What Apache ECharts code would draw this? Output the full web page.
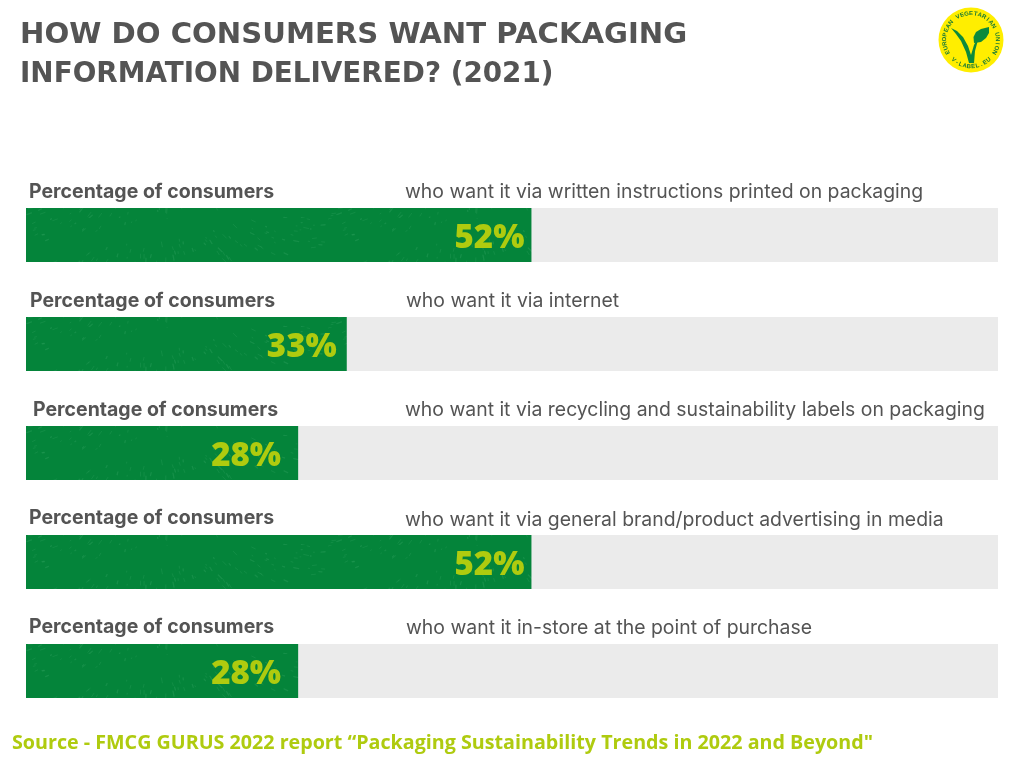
<!DOCTYPE html>
<html>
<head>
<meta charset="utf-8">
<style>html,body{margin:0;background:#fff}#main{width:1024px;height:768px}</style>
<script src="https://cdn.jsdelivr.net/npm/echarts@6/dist/echarts.min.js"></script>
</head>
<body>
<div id="main"></div>
<script>
let titleLines = ['HOW DO CONSUMERS WANT PACKAGING', 'INFORMATION DELIVERED? (2021)']
let leftLabel = 'Percentage of consumers'
let categories = [
    'who want it via written instructions printed on packaging',
    'who want it via internet',
    'who want it via recycling and sustainability labels on packaging',
    'who want it via general brand/product advertising in media',
    'who want it in-store at the point of purchase'
]
let values = [52, 33, 28, 52, 28]
let sourceText = 'Source - FMCG GURUS 2022 report \u201cPackaging Sustainability Trends in 2022 and Beyond"'

// hand placed text, the original is not quite aligned
let leftX = [29, 30, 33, 29, 29], leftY = [192, 301, 410, 518, 627]
let rightX = [405, 406, 405, 405, 406], rightY = [192, 301, 410, 520, 628]
let valueGap = [7, 10, 17, 7, 17]
let titleStretch = [1.023, 0.976]

let textColor = '#545454', lime = '#afcb0f', green = '#04843a'

// speckled texture of the green bars, decoration only
function speckleTile() {
    let c = document.createElement('canvas')
    c.width = 310
    c.height = 109
    let ctx = c.getContext('2d')
    ctx.fillStyle = green
    ctx.fillRect(0, 0, c.width, c.height)
    ctx.strokeStyle = 'rgba(48,160,96,0.4)'
    ctx.lineCap = 'round'
    for (let i = 0; i < 260; i++) {
        let x = (i * 73.3 + 17 * Math.sin(i * 1.7)) % c.width
        let y = (i * 41.7 + 11 * Math.cos(i * 2.3)) % c.height
        let a = i * 2.399
        let len = 1 + (i * 7 % 5)
        ctx.lineWidth = i % 3 === 0 ? 1.3 : 0.8
        ctx.beginPath()
        ctx.moveTo(x, y)
        ctx.lineTo(x + len * Math.cos(a), y + len * Math.sin(a))
        ctx.stroke()
    }
    return c
}

function ringText(str, r, from, to, bottom) {
    let out = []
    let step = (to - from) / (str.length - 1)
    for (let i = 0; i < str.length; i++) {
        let a = from + step * i
        out.push({
            type: 'text',
            x: r * Math.sin(a),
            y: bottom ? r * Math.cos(a) : -r * Math.cos(a),
            rotation: bottom ? a : -a,
            style: {
                text: str[i], fill: '#1a7a35', font: 'bold 6px "Liberation Sans"',
                align: 'center', verticalAlign: 'middle'
            }
        })
    }
    return out
}

let logo = {
    type: 'group',
    x: 971,
    y: 40,
    children: [
        {type: 'circle', shape: {cx: 0, cy: 0, r: 32.5}, style: {fill: '#ffee00'}},
        {type: 'polygon', shape: {
            points: [[-20, -12], [-14, -9], [-8, -3], [-3, 6], [0, 15], [3, 5], [7, -3], [11, -8], [7, 0], [4, 11], [3, 23], [-2, 23], [-5, 12], [-10, 1], [-15, -6]]
        }, style: {fill: '#0d8a3c'}},
        {type: 'polygon', shape: {
            points: [[3, 3], [2.5, -3], [5, -8], [10, -11], [18, -13], [18, -7], [15, -2], [10, 2]]
        }, style: {fill: '#0d8a3c'}}
    ].concat(ringText('EUROPEAN VEGETARIAN UNION', 26.5, -2.05, 2.05, false))
     .concat(ringText('V-LABEL.EU', 26.5, -0.72, 0.72, true))
}

let graphics = [logo]
titleLines.forEach(function (line, i) {
    graphics.push({
        type: 'text', x: 20, y: 36 + i * 38.5, scaleX: titleStretch[i],
        style: {text: line, fill: textColor, font: 'bold 28.5px "DejaVu Sans"', verticalAlign: 'middle'}
    })
})
categories.forEach(function (cat, i) {
    graphics.push({
        type: 'text', x: leftX[i], y: leftY[i],
        style: {text: leftLabel, fill: textColor, font: 'bold 19.5px Inter', verticalAlign: 'middle'}
    })
    graphics.push({
        type: 'text', x: rightX[i], y: rightY[i],
        style: {text: cat, fill: textColor, font: '19.4px Inter', verticalAlign: 'middle'}
    })
})
graphics.push({
    type: 'text', x: 12, y: 743,
    style: {text: sourceText, fill: lime, font: 'bold 19.7px "Open Sans"', verticalAlign: 'middle'}
})

let chart = echarts.init(document.getElementById('main'), null, {renderer: 'canvas'})
chart.setOption({
    animation: false,
    backgroundColor: '#fff',
    grid: {left: 26, top: 180.5, width: 972, height: 545},
    xAxis: {type: 'value', min: 0, max: 100, show: false},
    yAxis: {type: 'category', data: categories, inverse: true, show: false},
    graphic: graphics,
    series: [{
        type: 'bar',
        barWidth: 54,
        data: values.map(function (v, i) {
            return {
                value: v,
                label: {
                    show: true, position: 'insideRight', distance: valueGap[i], offset: [0, 4],
                    formatter: '{c}%', color: lime, fontFamily: 'Open Sans', fontWeight: 800, fontSize: 33
                }
            }
        }),
        showBackground: true,
        backgroundStyle: {color: '#ebebeb'},
        itemStyle: {
            color: {image: speckleTile(), repeat: 'repeat'}
        }
    }]
})
</script>
</body>
</html>
